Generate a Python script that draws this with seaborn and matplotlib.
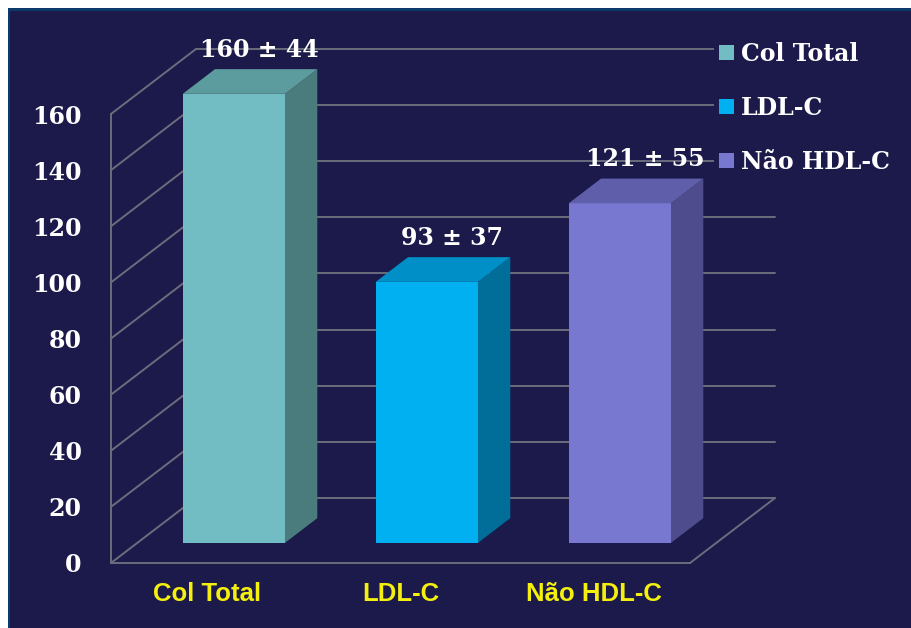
import matplotlib
matplotlib.use("Agg")
import matplotlib.pyplot as plt
import matplotlib.patches as mpatches
from matplotlib.transforms import Affine2D
import pandas as pd
import seaborn as sns

# ---- data ----
categorias = ["Col Total", "LDL-C", "Não HDL-C"]
medias = [160, 93, 121]
desvios = [44, 37, 55]
rotulos = ["160 ± 44", "93 ± 37", "121 ± 55"]
y_ticks = [0, 20, 40, 60, 80, 100, 120, 140, 160]

# ---- colours ----
fundo = "#1b1a4b"
grade = "#6c6c7e"
cor_frente = ["#72bdc4", "#00b0f0", "#7878d0"]
cor_lado = ["#4a7b7d", "#006e98", "#4e4c8c"]
cor_topo = ["#5c9b9e", "#008fc6", "#5f5eab"]
amarelo = "#f4ef0c"

W, H = 912, 628
sns.set_style("dark")
plt.rcParams["font.family"] = ["DejaVu Serif"]

fig = plt.figure(figsize=(W / 100, H / 100), dpi=100)
fig.patch.set_facecolor("white")
# slide-like dark panel with a thin blue edge
fig.add_artist(mpatches.Rectangle((8 / W, 0), 1, 1 - 8 / H, transform=fig.transFigure,
                                  facecolor="#0c3a6c", edgecolor="none", zorder=-3))
fig.add_artist(mpatches.Rectangle((10 / W, 0), 1, 1 - 11 / H, transform=fig.transFigure,
                                  facecolor=fundo, edgecolor="none", zorder=-2))

# front plane of the floor: x -0.5..2.5, y 0..160
x0p, x1p, y0p, y1p = 111, 690, 563, 114
ax = fig.add_axes([x0p / W, (H - y0p) / H, (x1p - x0p) / W, (y0p - y1p) / H])
ax.set_facecolor("none")

df = pd.DataFrame({"categoria": categorias, "valor": medias})
sns.barplot(data=df, x="categoria", y="valor", hue="categoria", palette=cor_frente,
            width=0.53, saturation=1, legend=False, ax=ax, zorder=3, linewidth=0)
ax.set_xlim(-0.5, 2.5)
ax.set_ylim(0, 160)

# oblique depth in data units
px_cat = (x1p - x0p) / 3
px_val = (y0p - y1p) / 160
DX = 85 / px_cat
DY = 65 / px_val
d_frente, d_fundo = 0.31, 0.69

# side and back walls
lw_g = 1.4
for v in y_ticks:
    ax.plot([-0.5, -0.5 + DX], [v, v + DY], color=grade, lw=lw_g, clip_on=False, zorder=1)
    ax.plot([-0.5 + DX, 2.5 + DX], [v + DY, v + DY], color=grade, lw=lw_g, clip_on=False, zorder=1)
ax.plot([2.5, 2.5 + DX], [0, DY], color=grade, lw=lw_g, clip_on=False, zorder=1)

# give each bar its depth: shift front face, add side and top faces
tx, ty = d_frente * DX, d_frente * DY
bdx, bdy = (d_fundo - d_frente) * DX, (d_fundo - d_frente) * DY
shift = Affine2D().translate(tx, ty) + ax.transData
for i, p in enumerate(ax.patches):
    xa, w, h = p.get_x(), p.get_width(), p.get_height()
    xb = xa + w
    p.set_transform(shift)
    p.set_clip_on(False)
    lado = mpatches.Polygon([(xb, 0), (xb + bdx, bdy), (xb + bdx, h + bdy), (xb, h)],
                            closed=True, facecolor=cor_lado[i], edgecolor="none",
                            transform=shift, zorder=3, clip_on=False)
    topo = mpatches.Polygon([(xa, h), (xb, h), (xb + bdx, h + bdy), (xa + bdx, h + bdy)],
                            closed=True, facecolor=cor_topo[i], edgecolor="none",
                            transform=shift, zorder=3, clip_on=False)
    ax.add_patch(lado)
    ax.add_patch(topo)

# value labels
for i, (v, txt) in enumerate(zip(medias, rotulos)):
    ax.annotate(txt, xy=(i, v), xytext=(52, 64), textcoords="offset pixels",
                ha="center", va="center", color="white", fontsize=17,
                fontweight="bold", zorder=5, annotation_clip=False)

# axes frame
for s in ["top", "right"]:
    ax.spines[s].set_visible(False)
for s in ["left", "bottom"]:
    ax.spines[s].set_color(grade)
    ax.spines[s].set_linewidth(lw_g)
ax.set_yticks(y_ticks)
ax.set_yticklabels([str(t) for t in y_ticks])
ax.tick_params(axis="y", direction="out", length=7, width=lw_g, color=grade,
               pad=14, labelcolor="white", labelsize=17)
for lab in ax.get_yticklabels():
    lab.set_fontweight("bold")

ax.set_xticks([-0.5, 0.5, 1.5, 2.5])
ax.set_xticklabels([])
ax.set_xticks([0, 1, 2], minor=True)
ax.set_xticklabels(categorias, minor=True)
ax.tick_params(axis="x", which="major", direction="out", length=7, width=lw_g, color=grade)
ax.tick_params(axis="x", which="minor", length=0, pad=14, labelcolor=amarelo, labelsize=18.5)
for lab in ax.get_xticklabels(minor=True):
    lab.set_fontweight("bold")
    lab.set_family(["Liberation Sans", "DejaVu Sans"])
ax.set_xlabel("")
ax.set_ylabel("")
ax.grid(False)

# legend
handles = [mpatches.Patch(facecolor=c, edgecolor="none") for c in cor_frente]
leg = ax.legend(handles, categorias, loc="upper left",
                bbox_to_anchor=(714 / W, 1 - 37 / H), bbox_transform=fig.transFigure,
                frameon=True, facecolor=fundo, edgecolor="none", framealpha=1,
                prop={"family": "DejaVu Serif", "weight": "bold", "size": 17},
                labelcolor="white", handlelength=0.65, handleheight=0.65,
                handletextpad=0.3, labelspacing=1.27, borderpad=0.2, borderaxespad=0)
leg.set_zorder(6)

fig.savefig("out.png", dpi=100, facecolor=fig.get_facecolor())
